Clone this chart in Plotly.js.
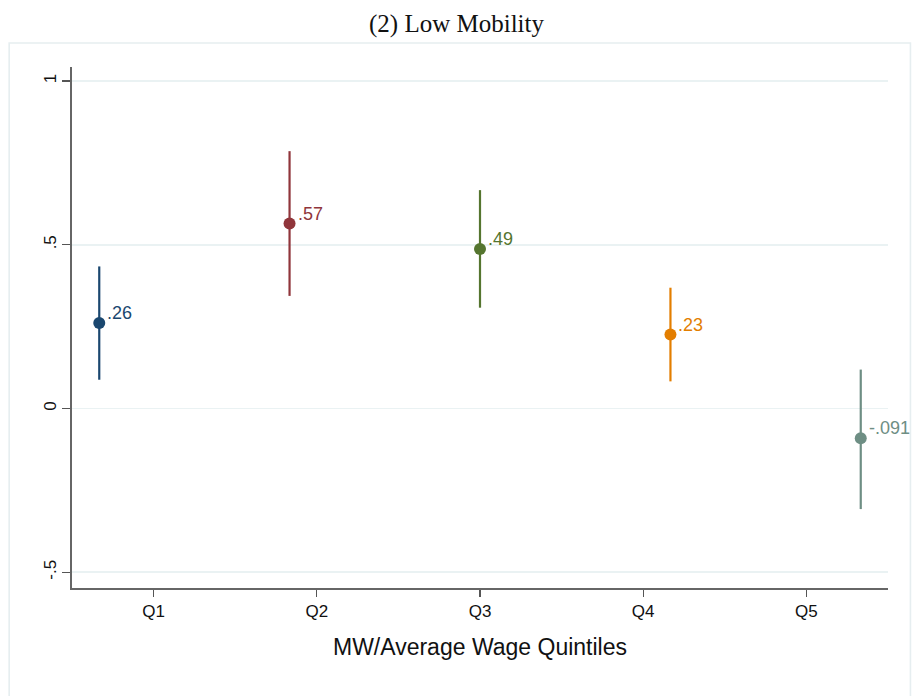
<!DOCTYPE html>
<html>
<head>
<meta charset="utf-8">
<script src="https://cdn.plot.ly/plotly-3.0.1.min.js"></script>
<style>html,body{margin:0;padding:0;background:#fff;}#chart{width:913px;height:696px;}</style>
</head>
<body>
<div id="chart"></div>
<script>
// Data
const categories = ['Q1', 'Q2', 'Q3', 'Q4', 'Q5'];
const tickPositions = [1, 2, 3, 4, 5];
const xPositions = [0.667, 1.833, 3.0, 4.167, 5.333];
const estimates = [0.261, 0.565, 0.487, 0.226, -0.091];
const ciLow = [0.088, 0.344, 0.308, 0.083, -0.307];
const ciHigh = [0.434, 0.786, 0.667, 0.369, 0.119];
const pointLabels = ['.26', '.57', '.49', '.23', '-.091'];
const yTickValues = [-0.5, 0, 0.5, 1];
const yTickLabels = ['-.5', '0', '.5', '1'];

const colors = ['#1a476f', '#90353b', '#55752f', '#e37e00', '#6e8e84'];

const traces = categories.map((c, i) => ({
  type: 'scatter',
  mode: 'markers',
  name: c,
  x: [xPositions[i]],
  y: [estimates[i]],
  marker: {color: colors[i], size: 12},
  error_y: {
    type: 'data', symmetric: false,
    array: [ciHigh[i] - estimates[i]],
    arrayminus: [estimates[i] - ciLow[i]],
    color: colors[i], thickness: 2.2, width: 0
  },
  hoverinfo: 'skip',
  showlegend: false
}));

const annotations = categories.map((c, i) => ({
  x: xPositions[i], y: estimates[i], xref: 'x', yref: 'y',
  text: pointLabels[i], showarrow: false,
  xanchor: 'left', yanchor: 'middle', xshift: 6, yshift: 10,
  font: {family: 'Liberation Sans, Arial, sans-serif', size: 18, color: colors[i]}
}));

const layout = {
  width: 913, height: 696,
  margin: {l: 72, r: 25, t: 67, b: 108},
  paper_bgcolor: '#ffffff', plot_bgcolor: '#ffffff',
  showlegend: false,
  title: {
    text: '(2) Low Mobility',
    font: {family: 'Liberation Serif, Times New Roman, serif', size: 25, color: '#111'},
    x: 0.5, xref: 'container', xanchor: 'center',
    y: 1 - 23/696, yref: 'container', yanchor: 'middle'
  },
  xaxis: {
    range: [0.5, 5.5],
    tickmode: 'array', tickvals: tickPositions, ticktext: categories,
    ticks: 'outside', ticklen: 7, tickwidth: 1.2, tickcolor: '#555',
    showline: true, linecolor: '#666', linewidth: 1.6,
    showgrid: false, zeroline: false,
    tickfont: {family: 'Liberation Sans, Arial, sans-serif', size: 17, color: '#111'},
    title: {text: 'MW/Average Wage Quintiles', standoff: 19,
            font: {family: 'Liberation Sans, Arial, sans-serif', size: 23, color: '#111'}}
  },
  yaxis: {
    range: [-0.548, 1.043],
    tickmode: 'array', tickvals: yTickValues, ticktext: yTickLabels,
    tickangle: -90,
    ticks: 'outside', ticklen: 8, tickwidth: 1.2, tickcolor: '#555',
    showline: true, linecolor: '#666', linewidth: 1.6,
    showgrid: true, gridcolor: '#eaf2f3', gridwidth: 1.8,
    zeroline: false,
    tickfont: {family: 'Liberation Sans, Arial, sans-serif', size: 17, color: '#111'}
  },
  shapes: [{
    type: 'rect', xref: 'paper', yref: 'paper',
    x0: -0.077, x1: 1.0275, y0: -0.22, y1: 1.046,
    line: {color: '#e6eef0', width: 1.6}, fillcolor: 'rgba(0,0,0,0)', layer: 'below'
  }],
  annotations: annotations
};

Plotly.newPlot('chart', traces, layout, {displayModeBar: false, staticPlot: true});
</script>
</body>
</html>
